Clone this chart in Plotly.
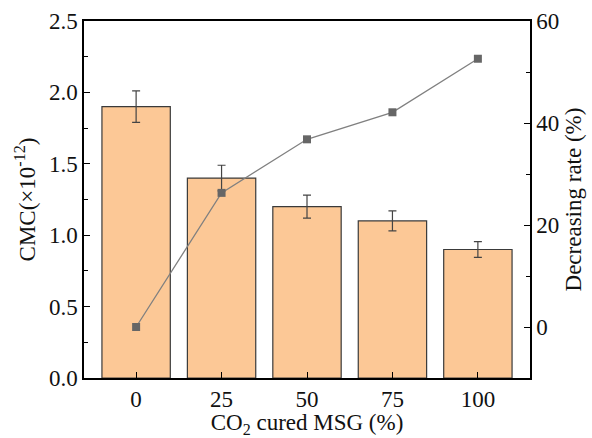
import plotly.graph_objects as go
from plotly.subplots import make_subplots

categories = ["0", "25", "50", "75", "100"]
cmc = [1.9, 1.4, 1.2, 1.1, 0.9]
cmc_err = [0.11, 0.09, 0.08, 0.07, 0.055]
decreasing_rate = [0.0, 26.3, 36.8, 42.1, 52.6]

FONT = "Liberation Serif"
FS = 23
fig = make_subplots(specs=[[{"secondary_y": True}]])

fig.add_trace(go.Bar(
    x=categories, y=cmc, width=0.8,
    marker=dict(color="#FCC896", line=dict(color="#3a3a3a", width=1.2)),
    error_y=dict(type="data", array=cmc_err, color="#444444", thickness=1.2, width=4),
    showlegend=False,
), secondary_y=False)

fig.add_trace(go.Scatter(
    x=categories, y=decreasing_rate, mode="lines+markers",
    line=dict(color="#808080", width=1.3),
    marker=dict(symbol="square", size=8, color="#666666"),
    showlegend=False,
), secondary_y=True)

axis_common = dict(
    showgrid=False, zeroline=False, showline=True, linecolor="black", linewidth=1.5,
    ticks="inside", ticklen=6, tickwidth=1.2, tickcolor="black",
    tickfont=dict(family=FONT, size=FS, color="#111"), automargin=False,
)

fig.update_xaxes(
    **axis_common, range=[-0.61, 4.61], mirror=True, domain=[0, 1],
    title=dict(text="CO<sub>2</sub> cured MSG (%)", font=dict(family=FONT, size=FS, color="#111"), standoff=2),
)
fig.update_yaxes(
    **axis_common, range=[0, 2.5], dtick=0.5, tickformat=".1f",
    minor=dict(ticks="inside", ticklen=4, dtick=0.25, tickcolor="black", tickwidth=1.2),
    title=dict(text="CMC(×10<sup>-12</sup>)", font=dict(family=FONT, size=FS, color="#111"), standoff=7),
    secondary_y=False,
)
fig.update_yaxes(
    **axis_common, range=[-10, 60], tickvals=[0, 20, 40, 60],
    minor=dict(ticks="inside", ticklen=4, tickvals=[10, 30, 50], tickcolor="black", tickwidth=1.2),
    title=dict(text="Decreasing rate (%)", font=dict(family=FONT, size=FS, color="#111"), standoff=7),
    secondary_y=True,
)

fig.update_layout(
    width=592, height=438,
    margin=dict(l=84, r=62, t=21, b=60),
    plot_bgcolor="white", paper_bgcolor="white",
    bargap=0.2,
)

fig.write_html("out.html")
